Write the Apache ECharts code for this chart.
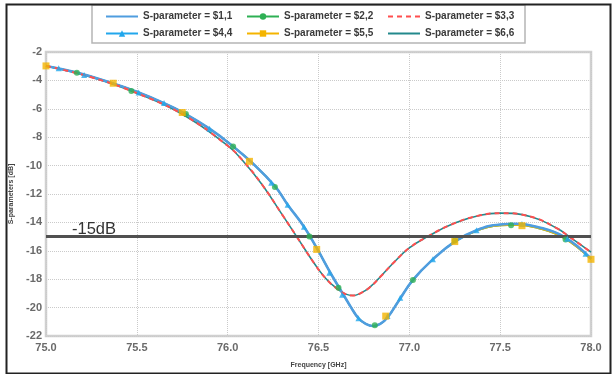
<!DOCTYPE html>
<html>
<head>
<meta charset="utf-8">
<script src="https://cdn.jsdelivr.net/npm/echarts@6/dist/echarts.min.js"></script>
<style>html,body{margin:0;padding:0;background:#fff}#c{width:615px;height:374px}</style>
</head>
<body>
<div id="c"></div>
<script>
// ---- data ----
const seriesNames = ['S-parameter = $1,1','S-parameter = $2,2','S-parameter = $3,3','S-parameter = $4,4','S-parameter = $5,5','S-parameter = $6,6'];
const xTicks = [75.0, 75.5, 76.0, 76.5, 77.0, 77.5, 78.0];
const yTicks = [-22, -20, -18, -16, -14, -12, -10, -8, -6, -4, -2];
const threshold = -15;
const thresholdLabel = '-15dB';

// curve for S1,1 and S4,4
const freqA = [75.0, 75.17, 75.37, 75.5, 75.64, 75.76, 75.9, 76.03, 76.13, 76.26, 76.33, 76.42, 76.49, 76.57, 76.64, 76.68, 76.72, 76.76, 76.80, 76.84, 76.88, 76.94, 77.02, 77.13, 77.25, 77.37, 77.5, 77.59, 77.7, 77.85, 78.0];
const valA  = [-2.98, -3.45, -4.22, -4.8, -5.55, -6.3, -7.4, -8.65, -9.75, -11.45, -12.75, -14.3, -15.8, -17.65, -19.15, -20.0, -20.75, -21.15, -21.3, -21.15, -20.7, -19.55, -18.05, -16.6, -15.35, -14.55, -14.15, -14.1, -14.3, -15.0, -16.55];
// curve for S2,2 and S5,5
const freqA2 = [75.0, 75.17, 75.37, 75.5, 75.64, 75.76, 75.9, 76.03, 76.13, 76.26, 76.33, 76.42, 76.49, 76.57, 76.64, 76.68, 76.72, 76.76, 76.80, 76.84, 76.88, 76.94, 77.02, 77.13, 77.25, 77.37, 77.5, 77.59, 77.7, 77.85, 78.0];
const valA2  = [-2.98, -3.45, -4.22, -4.8, -5.55, -6.3, -7.4, -8.65, -9.75, -11.45, -12.75, -14.3, -15.8, -17.65, -19.15, -20.0, -20.75, -21.15, -21.3, -21.15, -20.7, -19.55, -18.05, -16.6, -15.35, -14.6, -14.22, -14.18, -14.38, -15.1, -16.6];
// curve for S3,3 and S6,6
const freqB = [75.0, 75.25, 75.5, 75.76, 76.0, 76.08, 76.19, 76.3, 76.38, 76.48, 76.54, 76.6, 76.65, 76.69, 76.73, 76.78, 76.85, 76.92, 77.0, 77.1, 77.25, 77.39, 77.5, 77.67, 77.81, 77.88, 78.0];
const valB  = [-2.98, -3.78, -4.9, -6.45, -8.6, -9.6, -11.35, -13.45, -15.0, -16.95, -17.95, -18.65, -19.05, -19.15, -19.0, -18.6, -17.7, -16.75, -15.8, -15.0, -14.05, -13.5, -13.35, -13.6, -14.4, -15.0, -16.1];

// marker positions
const mk22f = [75.17, 75.47, 75.77, 76.03, 76.26, 76.45, 76.61, 76.81, 77.02, 77.25, 77.56, 77.86];
const mk22v = [-3.46, -4.74, -6.37, -8.66, -11.5, -15.0, -18.6, -21.25, -18.05, -15.3, -14.2, -15.2];
const mk44f = [75.07, 75.21, 75.51, 75.65, 75.9, 76.24, 76.33, 76.42, 76.56, 76.63, 76.72, 76.88, 76.95, 77.13, 77.37, 77.62, 77.87, 77.97];
const mk44v = [-3.15, -3.62, -4.85, -5.6, -7.4, -11.2, -12.75, -14.3, -17.55, -19.1, -20.75, -20.6, -19.3, -16.6, -14.55, -14.12, -15.15, -16.2];
const mk55f = [75.0, 75.37, 75.75, 76.12, 76.49, 76.87, 77.25, 77.62, 78.0];
const mk55v = [-2.98, -4.2, -6.26, -9.7, -15.9, -20.6, -15.35, -14.23, -16.6];

// ---- build ----
const pairs = (f, v) => f.map((x, i) => [x, v[i]]);
const FONT = '"Liberation Sans", Arial, sans-serif';
const colors = {
  s11: '#4f9ddf', s22: '#2eb054', s33: '#ff4f4f', s44: '#22a7ec', s55: '#f4b400', s66: '#23898c'
};
function lineSeries(name, f, v, color, opts) {
  return Object.assign({
    name: name, type: 'line', data: pairs(f, v), smooth: 0.45,
    symbol: 'none', showSymbol: false, color: color,
    lineStyle: { color: color, width: 1.5 }, animation: false
  }, opts || {});
}
function markerSeries(name, f, v, color, symbol, size) {
  return {
    name: name, type: 'scatter', data: pairs(f, v), symbol: symbol, symbolSize: size,
    itemStyle: { color: color }, z: 5, animation: false
  };
}
const series = [
  lineSeries(seriesNames[0], freqA, valA, colors.s11, { lineStyle: { color: colors.s11, width: 2.6 }, z: 4 }),
  lineSeries(seriesNames[1], freqA2, valA2, colors.s22, { symbol: 'circle', symbolSize: 6, z: 2 }),
  lineSeries(seriesNames[2], freqB, valB, colors.s33, { lineStyle: { color: colors.s33, width: 2, type: [5, 4] }, z: 4 }),
  lineSeries(seriesNames[3], freqA, valA, colors.s44, { symbol: 'triangle', symbolSize: 6, z: 3 }),
  lineSeries(seriesNames[4], freqA2, valA2, colors.s55, { symbol: 'rect', symbolSize: 6, z: 2 }),
  lineSeries(seriesNames[5], freqB, valB, colors.s66, { lineStyle: { color: colors.s66, width: 1.6 }, z: 3,
    markLine: {
      silent: true, symbol: 'none', animation: false,
      lineStyle: { color: '#505050', width: 3, type: 'solid' },
      label: { show: true, position: 'insideStartTop', formatter: thresholdLabel, color: '#333', fontSize: 16.5, fontFamily: FONT, distance: [26, -1] },
      data: [{ yAxis: threshold }]
    }
  }),
  markerSeries(seriesNames[1], mk22f, mk22v, colors.s22, 'circle', 6),
  markerSeries(seriesNames[3], mk44f, mk44v, colors.s44, 'triangle', 6),
  markerSeries(seriesNames[4], mk55f, mk55v, colors.s55, 'rect', 7)
];
const noMarker = { opacity: 0 };
const legendData = seriesNames.map((n, i) => (i === 0 || i === 2 || i === 5) ? { name: n, itemStyle: noMarker } : { name: n });

const chart = echarts.init(document.getElementById('c'), null, { renderer: 'canvas' });
chart.setOption({
  animation: false,
  backgroundColor: '#fff',
  grid: { left: 43, right: 24, top: 52, bottom: 36, show: true, borderColor: '#d0d0d0', borderWidth: 2.5, backgroundColor: 'transparent' },
  legend: {
    data: legendData, left: 92, top: 5, width: 420, orient: 'horizontal',
    itemWidth: 32, itemHeight: 8, itemGap: 6,
    padding: [6, 3, 4, 13], borderColor: '#b5b5b5', borderWidth: 1.5, backgroundColor: '#fff',
    textStyle: { fontSize: 10, fontWeight: 'bold', color: '#3a3a3a', fontFamily: FONT, width: 97, lineHeight: 11 }
  },
  xAxis: {
    type: 'value', min: xTicks[0], max: xTicks[xTicks.length - 1], interval: 0.5,
    name: 'Frequency [GHz]', nameLocation: 'middle', nameGap: 26,
    nameTextStyle: { fontSize: 7, fontWeight: 'bold', color: '#444', fontFamily: FONT },
    axisLine: { show: false }, axisTick: { show: false },
    axisLabel: { margin: 6, fontSize: 11, fontWeight: 'bold', color: '#6a6a6a', fontFamily: FONT, formatter: v => v.toFixed(1) },
    splitLine: { show: true, lineStyle: { color: '#cacaca', type: 'dotted', width: 1 } }
  },
  yAxis: {
    type: 'value', min: yTicks[0], max: yTicks[yTicks.length - 1], interval: 2,
    name: 'S-parameters [dB]', nameLocation: 'middle', nameGap: 31, nameRotate: 90,
    nameTextStyle: { fontSize: 7, fontWeight: 'bold', color: '#444', fontFamily: FONT },
    axisLine: { show: false }, axisTick: { show: false },
    axisLabel: { margin: 4, fontSize: 11, fontWeight: 'bold', color: '#6a6a6a', fontFamily: FONT },
    splitLine: { show: true, lineStyle: { color: '#cacaca', type: 'dotted', width: 1 } }
  },
  graphic: [{
    type: 'rect', left: 4, top: 2, shape: { width: 604, height: 369 },
    style: { fill: 'none', stroke: '#222', lineWidth: 2 }, silent: true, z: 100
  }],
  series: series
});
</script>
</body>
</html>
